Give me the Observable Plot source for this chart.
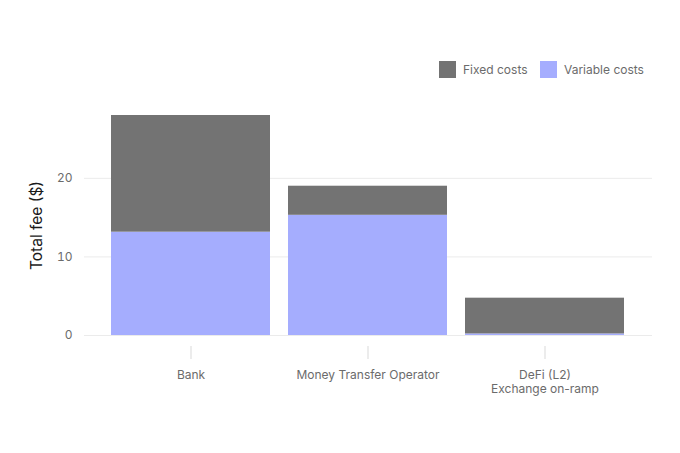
<!DOCTYPE html>
<html>
<head>
<meta charset="utf-8">
<script src="https://cdn.jsdelivr.net/npm/d3@7"></script>
<script src="https://cdn.jsdelivr.net/npm/@observablehq/plot@0.6"></script>
<style>
  body { margin: 0; background: #fff; font-family: Inter, "Noto Sans", sans-serif; }
  #legend { height: 90px; position: relative; }
  .item { position: absolute; top: 61px; display: flex; align-items: center; font-size: 12px; color: #6b6b6b; }
  .sw { width: 17px; height: 17px; margin-right: 7px; }
</style>
</head>
<body>
<div id="legend"></div>
<div id="chart"></div>
<script>
const categories = ["Bank", "Money Transfer Operator", "DeFi (L2)\nExchange on-ramp"];
const variableCosts = [13.15, 15.3, 0.2];
const fixedCosts = [14.85, 3.7, 4.55];
const seriesNames = ["Fixed costs", "Variable costs"];
const seriesColors = ["#737373", "#a5adfe"];
const yTicks = [0, 10, 20];

const data = [];
categories.forEach((c, i) => {
  data.push({category: c, type: "Variable costs", value: variableCosts[i]});
  data.push({category: c, type: "Fixed costs", value: fixedCosts[i]});
});

// legend
const legend = document.getElementById("legend");
const lefts = [439, 540];
seriesNames.forEach((s, i) => {
  const it = document.createElement("div");
  it.className = "item";
  it.style.left = lefts[i] + "px";
  it.innerHTML = `<div class="sw" style="background:${seriesColors[i]}"></div><span>${s}</span>`;
  legend.appendChild(it);
});

const chart = Plot.plot({
  width: 680,
  height: 363,
  marginLeft: 84,
  marginRight: 28,
  marginTop: 14,
  marginBottom: 107,
  style: {fontFamily: "Inter, 'Noto Sans', sans-serif", fontSize: "12px", color: "#6b6b6b", background: "#fff"},
  x: {domain: categories, paddingInner: 0.1, paddingOuter: 0.15, label: null},
  y: {domain: [-1.4, 29.4], label: null},
  color: {domain: seriesNames, range: seriesColors},
  marks: [
    Plot.gridY(yTicks, {stroke: "#ebebeb", strokeOpacity: 1, strokeWidth: 1}),
    Plot.barY(data, {x: "category", y: "value", fill: "type"}),
    Plot.axisY(yTicks, {tickSize: 0, tickPadding: 12, fontSize: 12, fill: "#6b6b6b", label: null}),
    Plot.axisX({tickSize: 13, stroke: "#d9d9d9", tickPadding: 10, fontSize: 12, lineHeight: 1.15, fill: "#6b6b6b", label: null}),
    Plot.text(["Total fee ($)"], {frameAnchor: "left", textAnchor: "middle", rotate: -90, dx: -47, fontSize: 15.5, fill: "#1a1a1a"})
  ]
});
document.getElementById("chart").appendChild(chart);
</script>
</body>
</html>
